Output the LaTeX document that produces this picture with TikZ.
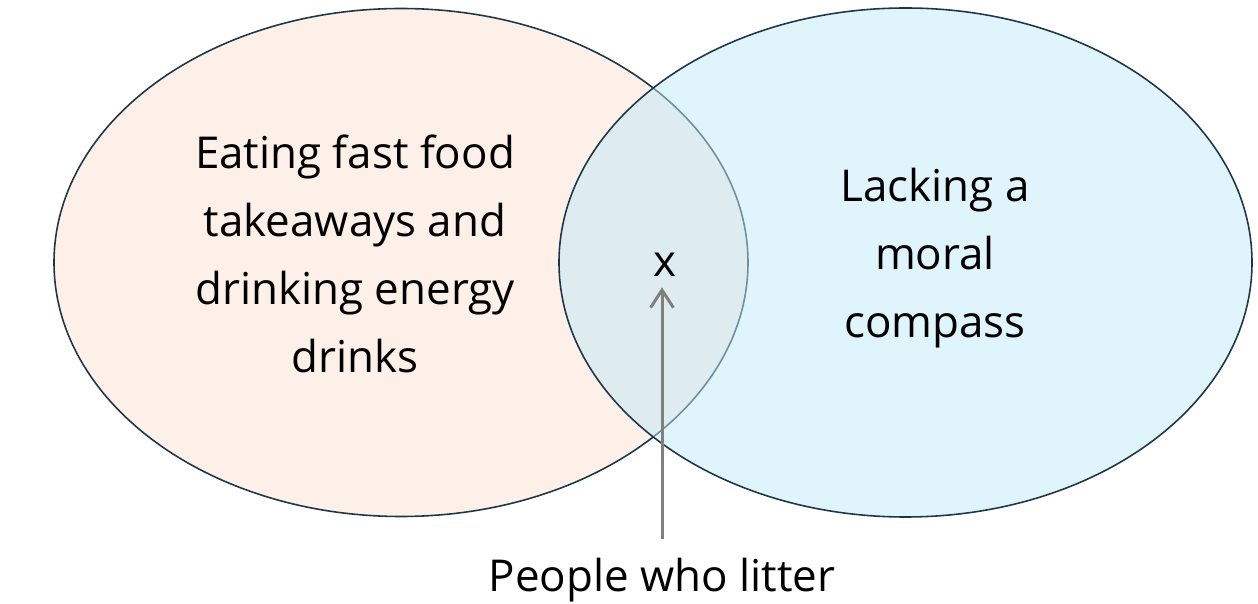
\documentclass[tikz,border=0pt]{standalone}
\usepackage{fontspec}
\setmainfont{Open Sans}
\usepackage{tikz}
\usetikzlibrary{arrows.meta,positioning}
\definecolor{peach}{RGB}{253,240,232}
\definecolor{sky}{RGB}{193,233,247}
\definecolor{rim}{RGB}{30,55,72}
\definecolor{pointer}{RGB}{128,128,128}
\begin{document}
\begin{tikzpicture}[
    x=0.02cm, y=-0.02cm,
    setA/.style={fill=peach, draw=rim, line width=0.9pt},
    setB/.style={fill=sky, fill opacity=0.5, draw=rim, line width=0.9pt},
    lbl/.style={align=center, font=\fontsize{25}{38.6}\selectfont, inner sep=0pt},
    arr/.style={-{Straight Barb[length=10pt, width=13pt]}, pointer, line width=1.7pt}
]
\useasboundingbox (0,0) rectangle (1258,604);
\draw[setA] (401,262.5) ellipse [x radius=347, y radius=254];
\draw[setB] (905.5,262.5) ellipse [x radius=346.5, y radius=254.5];

\node[lbl] (food) at (355,254) {Eating fast food\\takeaways and\\drinking energy\\drinks};
\node[lbl] (moral) at (935,258) {Lacking a\\moral\\compass};
\node[lbl, anchor=base] (x) at (665,277) {x};
\node[lbl, anchor=base] (litter) at (662,591) {People who litter};

\draw[arr, shorten <=0.36cm, shorten >=0.2cm] (litter.north) -- (litter.north |- x.south);
\end{tikzpicture}
\end{document}
